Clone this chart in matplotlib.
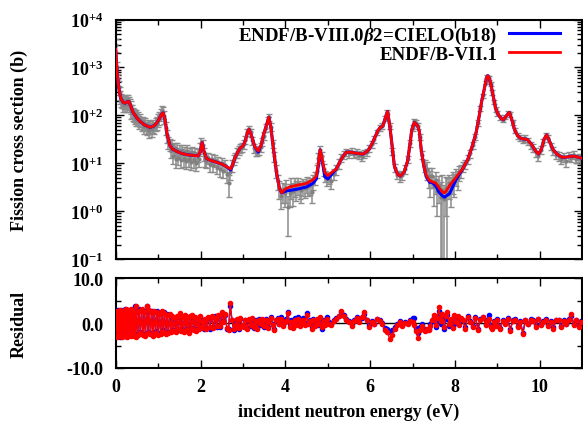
import numpy as np
import matplotlib
matplotlib.use('Agg')
import matplotlib.pyplot as plt
from matplotlib.ticker import FixedLocator, FixedFormatter, LogLocator, NullFormatter, MultipleLocator

plt.rcParams['font.family'] = ['Liberation Serif', 'DejaVu Serif']
plt.rcParams['font.weight'] = 'bold'
plt.rcParams['mathtext.fontset'] = 'custom'
plt.rcParams['mathtext.rm'] = 'Liberation Serif'
plt.rcParams['mathtext.it'] = 'Liberation Serif:italic'
plt.rcParams['mathtext.bf'] = 'Liberation Serif:bold'
plt.rcParams['axes.unicode_minus'] = False

# ---------------- evaluated cross sections ----------------
curve_e = [0.00, 0.02, 0.04, 0.06, 0.09, 0.125, 0.18, 0.22, 0.27, 0.31,
           0.35, 0.41, 0.50, 0.57, 0.68, 0.81, 0.90, 0.96, 1.03, 1.08,
           1.12, 1.16, 1.21, 1.28, 1.35, 1.43, 1.55, 1.67, 1.80, 1.94,
           1.99, 2.04, 2.08, 2.14, 2.25, 2.38, 2.50, 2.61, 2.71, 2.76,
           2.81, 2.87, 2.92, 3.00, 3.06, 3.10, 3.14, 3.20, 3.28, 3.36,
           3.43, 3.48, 3.56, 3.61, 3.66, 3.71, 3.79, 3.86, 3.91, 4.00,
           4.10, 4.30, 4.50, 4.65, 4.73, 4.78, 4.82, 4.87, 4.93, 5.00,
           5.10, 5.20, 5.28, 5.36, 5.44, 5.52, 5.59, 5.70, 5.83, 5.92,
           5.98, 6.08, 6.18, 6.24, 6.30, 6.36, 6.41, 6.45, 6.49, 6.57,
           6.64, 6.71, 6.80, 6.88, 6.93, 6.98, 7.04, 7.12, 7.16, 7.20,
           7.26, 7.32, 7.40, 7.47, 7.55, 7.62, 7.70, 7.75, 7.80, 7.87,
           7.95, 8.02, 8.10, 8.18, 8.30, 8.41, 8.50, 8.57, 8.63, 8.69,
           8.74, 8.77, 8.81, 8.85, 8.90, 8.96, 9.03, 9.10, 9.14, 9.20,
           9.28, 9.34, 9.40, 9.47, 9.55, 9.63, 9.71, 9.80, 9.90, 9.97,
           10.04, 10.10, 10.16, 10.22, 10.30, 10.40, 10.53, 10.65, 10.75, 10.85,
           11.00]
curve_red = [2400, 1200, 700, 450, 300, 220, 185, 180, 190, 195,
             160, 115, 88, 75, 63, 56, 60, 68, 85, 105,
             112, 85, 41, 23, 19.5, 17.8, 16, 15.1, 14.6, 14.2,
             17, 27, 18, 12.5, 11.3, 10.5, 9.6, 8.5, 7.6, 9.5,
             13, 16.5, 20, 23, 30, 42, 51, 38, 22, 18,
             24, 38, 65, 91, 55, 23, 6.5, 3.0, 2.4, 2.9,
             3.2, 3.5, 3.8, 4.5, 5.4, 10, 19, 12, 6.5, 5.5,
             6.5, 7.6, 10.5, 14, 17, 17, 16.6, 16, 15.5, 17.5,
             20, 30, 48, 56, 60, 90, 120, 70, 37, 8.7,
             6, 5.4, 6.5, 11, 22, 50, 71, 60, 45, 20,
             9, 5.5, 4.3, 4.1, 3.8, 3.1, 2.5, 2.4, 2.7, 3.4,
             4.2, 5.0, 6.2, 7.6, 12, 23.5, 45, 98, 200, 355,
             600, 670, 580, 420, 250, 135, 100, 84, 81, 95,
             115, 80, 51, 38, 33, 32, 31, 25, 18, 15.5,
             20, 32, 39, 30, 20, 15.5, 13.2, 13.5, 14, 13.8,
             12.6]
curve_blue = [2400, 1200, 700, 450, 300, 220, 185, 180, 190, 195,
              160, 115, 88, 75, 63, 56, 60, 68, 85, 105,
              112, 85, 41, 23, 19.5, 17.8, 16, 15.1, 14.6, 14.2,
              17, 27, 18, 12.5, 11.3, 10.5, 9.6, 8.5, 7.2, 9.5,
              13, 16.5, 20, 23, 30, 42, 51, 38, 22, 17,
              24, 38, 65, 91, 55, 23, 6.5, 3.0, 2.4, 2.6,
              2.7, 2.9, 3.2, 3.8, 4.7, 9, 19, 11, 5.2, 4.7,
              6.0, 7.6, 10.5, 14, 17, 17, 16.6, 16, 15.5, 17.5,
              20, 30, 48, 56, 60, 90, 120, 70, 37, 8.7,
              6, 5.4, 6.5, 11, 22, 50, 71, 60, 45, 20,
              9, 5.2, 4.0, 3.9, 3.3, 2.5, 2.1, 1.95, 2.1, 2.3,
              3.3, 4.5, 5.8, 7.6, 12, 23.5, 45, 98, 200, 355,
              600, 670, 580, 420, 250, 135, 100, 84, 81, 95,
              115, 80, 51, 38, 33, 32, 31, 25, 18, 15.5,
              20, 32, 39, 30, 20, 15.5, 13.2, 13.5, 14, 13.8,
              12.6]

# ---------------- experimental data ----------------
exp_e = [0.01, 0.03, 0.05, 0.07, 0.09, 0.11, 0.13, 0.15, 0.17, 0.19,
         0.21, 0.23, 0.25, 0.27, 0.29, 0.31, 0.33, 0.35, 0.37, 0.39,
         0.41, 0.43, 0.45, 0.47, 0.49,
         0.52, 0.55, 0.58, 0.61, 0.64, 0.67, 0.70, 0.73, 0.76, 0.79,
         0.82, 0.85, 0.88, 0.91, 0.94, 0.97, 1.00, 1.03, 1.06, 1.09,
         1.12, 1.15, 1.18, 1.21, 1.24, 1.27, 1.30,
         1.33, 1.36, 1.39, 1.42, 1.45, 1.48, 1.51, 1.54, 1.57, 1.60,
         1.63, 1.66, 1.69, 1.72, 1.75, 1.78, 1.81, 1.84, 1.87, 1.90,
         1.93, 1.96, 1.99, 2.02, 2.05, 2.08, 2.11,
         2.14, 2.18, 2.22, 2.26, 2.30, 2.34, 2.38, 2.42, 2.46, 2.50,
         2.54, 2.58, 2.62, 2.66, 2.70, 2.74, 2.78, 2.82, 2.86, 2.90,
         2.94, 2.98,
         3.02, 3.06, 3.10, 3.14, 3.18, 3.22, 3.26, 3.30, 3.34, 3.38,
         3.42, 3.46, 3.50, 3.54, 3.58, 3.62, 3.66, 3.70, 3.74, 3.78,
         3.82, 3.86, 3.90, 3.94, 3.98,
         4.02, 4.06, 4.10, 4.14, 4.18, 4.22, 4.26, 4.30, 4.34, 4.38,
         4.42, 4.46, 4.50, 4.54, 4.58, 4.62, 4.66, 4.70, 4.74, 4.78,
         4.82, 4.86, 4.90, 4.94, 4.98, 5.02,
         5.08, 5.14, 5.20, 5.26, 5.32, 5.38, 5.44, 5.50, 5.56, 5.62,
         5.68, 5.74, 5.80, 5.86, 5.92, 5.98, 6.04, 6.10, 6.16, 6.22,
         6.28, 6.34, 6.40, 6.46, 6.52, 6.58, 6.64, 6.70, 6.76, 6.82,
         6.88, 6.94, 7.00,
         7.04, 7.08, 7.12, 7.18, 7.22, 7.28, 7.34, 7.38, 7.42, 7.46,
         7.50, 7.54, 7.58, 7.62, 7.66, 7.70, 7.74, 7.78, 7.82, 7.86,
         7.90, 7.94, 7.98, 8.02, 8.06, 8.10, 8.14,
         8.18, 8.24, 8.30, 8.36, 8.42, 8.48, 8.54, 8.60, 8.66, 8.72,
         8.76, 8.80, 8.84, 8.88, 8.92, 8.96, 9.00, 9.06, 9.12, 9.18,
         9.24, 9.30, 9.36, 9.42, 9.48, 9.54, 9.60, 9.66, 9.72, 9.78,
         9.84, 9.90, 9.96, 10.02, 10.08, 10.14, 10.20, 10.26, 10.32, 10.38,
         10.44, 10.50, 10.56, 10.62, 10.68, 10.74, 10.80, 10.86, 10.92, 10.98]
exp_sig = [3000, 1000, 560, 390, 300, 250, 215, 200, 175, 195,
           170, 190, 200, 175, 210, 185, 165, 150, 125, 128,
           110, 105, 95, 100, 85,
           88, 76, 80, 68, 72, 60, 66, 55, 62, 50,
           58, 52, 62, 57, 66, 70, 80, 90, 105, 125,
           115, 95, 55, 38, 28, 25, 19,
           24, 14, 21, 12, 20, 13, 18, 11.5, 19, 12.5,
           17, 11, 18, 12, 16, 10.5, 17, 11.5, 16, 10,
           15, 12, 20, 26, 24, 16, 12.5,
           11, 13, 9.5, 12, 9, 11.5, 8.5, 10.5, 7.5, 10,
           7, 9, 6, 3.8, 6.5, 9, 12, 13.5, 17, 19,
           21, 22,
           25, 31, 45, 52, 44, 30, 21, 18, 17.5, 19,
           22, 28, 37, 55, 80, 92, 58, 26, 14, 7,
           4.3, 3, 2.1, 2.7, 2.4,
           3.0, 1.2, 2.4, 3.3, 2.6, 3.5, 2.9, 3.6, 3.0, 2.7,
           3.4, 3.1, 3.8, 3.3, 3.5, 2.5, 4.2, 5.0, 7, 13,
           19, 14, 7.5, 5.5, 4.6, 5.0,
           4.3, 6, 7.5, 10, 13, 15, 17, 16, 17.5, 15.5,
           16.5, 15, 13.5, 16, 17, 21, 25, 32, 44, 55,
           60, 85, 118, 60, 18, 8, 5.8, 5.3, 5.6, 7.5,
           12, 26, 55,
           75, 70, 60, 35, 15, 9, 7.5, 5.5, 4.5, 5.5,
           3.3, 4.5, 2.6, 3.5, 2.0, 2.8, 1.8, 3.0, 2.5, 3.8,
           3.2, 4.5, 4.0, 5.5, 4.8, 6.5, 7,
           8.5, 9.5, 12, 16, 24, 35, 70, 140, 260, 480,
           650, 600, 450, 300, 190, 135, 110, 90, 80, 92,
           112, 105, 72, 48, 37, 34, 31, 33, 29, 24,
           21, 17, 14, 19, 28, 38, 33, 23, 18, 15,
           14, 12, 13.5, 11, 14, 13, 15, 12.5, 13, 12]
exp_err = [900, 300, 170, 120, 90, 75, 65, 60, 55, 60,
           50, 55, 60, 55, 60, 55, 50, 45, 40, 40,
           35, 32, 30, 30, 26,
           27, 23, 24, 21, 22, 19, 20, 17, 19, 16,
           18, 16, 19, 17, 20, 21, 24, 27, 30, 35,
           33, 28, 17, 11, 8, 7, 6,
           7, 4.5, 6, 4, 6, 4, 5.5, 3.5, 5.5, 4,
           5, 3.5, 5.5, 3.5, 5, 3.3, 5, 3.5, 5, 3,
           4.5, 3.5, 6, 7, 7, 5, 4,
           3, 3.5, 2.8, 3.2, 2.6, 3, 2.5, 2.8, 2.3, 2.7,
           2.2, 2.5, 2.2, 1.8, 2, 2.5, 3, 3, 4, 4,
           4.5, 4.5,
           5, 6, 8, 9, 8, 6, 4.5, 4, 3.5, 4,
           4.5, 5.5, 7, 10, 14, 15, 10, 5, 3.5, 2,
           1.5, 1.2, 1.0, 1.2, 1.2,
           1.5, 0.9, 1.2, 1.5, 1.3, 1.5, 1.3, 1.4, 1.2, 1.2,
           1.3, 1.2, 1.4, 1.2, 1.3, 1.0, 1.4, 1.5, 2, 3,
           4, 3, 2, 1.5, 1.3, 1.4,
           1.4, 1.6, 1.8, 2.3, 2.6, 3, 3, 3, 3, 2.8,
           3, 2.8, 2.6, 3, 3, 3.5, 4, 5, 6, 7,
           8, 10, 14, 8, 3, 1.5, 1.2, 1.2, 1.2, 1.5,
           2, 4, 7,
           9, 9, 8, 5, 3, 2.5, 3, 2.5, 2.5, 2.5,
           2.0, 2.2, 1.8, 2.0, 1.99, 2.79, 1.79, 2.2, 2.49, 2.0,
           2.0, 2.2, 2.0, 2.2, 2.0, 2.2, 2,
           2, 2, 2.5, 3, 4, 5, 9, 15, 25, 40,
           50, 50, 40, 30, 20, 15, 12, 10, 9, 10,
           12, 11, 8, 6, 5, 5, 4.5, 5, 4.5, 4,
           4, 3.5, 3, 3.5, 4.5, 5.5, 5, 4, 3.5, 3,
           3, 2.5, 2.8, 2.5, 2.8, 2.6, 3, 2.5, 2.6, 2.5]

# ---------------- residuals ----------------
res_red = [2.8, -3.0, 2.5, -2.7, 3.0, -2.9, 2.6, -3.1, 2.4, -2.8,
           2.9, -2.6, 3.1, -3.0, 2.7, -2.5, 2.3, -2.9, 3.2, -2.4,
           2.6, -2.8, 2.5, -3.0, 3.8,
           -2.6, 2.8, -2.3, 3.1, -2.7, 2.4, -2.9, 3.8, -2.2, 2.9,
           -2.5, 2.3, -2.8, 2.7, -2.1, 2.5, -2.6, 2.0, -2.4, 2.8,
           -1.9, 2.2, -2.5, 1.8, -2.3, 2.1, -2.0,
           1.5, -1.8, 1.2, -2.0, 1.6, -1.4, 2.2, -1.7, 1.3, -1.9,
           1.8, -1.5, 1.1, -2.1, 1.7, -1.2, 1.9, -1.6, 1.4, -1.8,
           1.0, -1.3, 1.6, -0.8, 0.5, -1.1, 0.9,
           -1.2, 1.4, -0.9, 1.7, -1.1, 1.2, -0.7, 1.9, -0.6, 2.4,
           0.3, 2.1, -1.0, -1.5, 4.4, 0.8, -1.3, -0.5, 0.9, -1.0,
           1.1, -0.4,
           -0.8, 0.6, -1.2, 0.9, -0.5, 1.2, -0.9, 0.4, -1.3, 0.7,
           -0.2, 1.0, -0.6, 0.8, -1.1, 0.3, 1.2, -0.4, -1.5, 0.6,
           0.9, -0.3, 1.0, -0.7, 0.2,
           0.5, 2.2, -0.8, 0.3, -1.0, 0.6, -0.4, 0.9, -0.7, 0.2,
           0.8, -0.5, 1.9, -0.3, 0.4, -1.2, 0.7, -0.6, 0.9, -0.2,
           1.3, -0.9, 0.4, -0.5, 1.0, -0.3,
           -0.5, 0.4, 0.9, 1.5, 2.7, 1.6, 0.8, 0.2, -0.6, 0.5,
           1.2, 0.3, 1.4, 2.4, 0.6, -0.8, 0.2, -0.3, 0.9, 0.4,
           -0.2, -1.5, -2.0, -3.5, -2.6, -1.2, -0.4, 0.3, -0.6, 0.1,
           -0.3, 0.5, 0.2,
           -0.4, -1.8, -3.2, -1.5, -0.6, -1.8, -1.2, -1.6, -0.7, 0.8,
           1.9, -0.5, 1.2, 3.5, 0.4, 2.1, -0.8, 1.5, 2.4, -0.3,
           0.9, -1.1, 1.8, 0.3, 1.6, -0.4, 1.1,
           0.6, -1.2, 1.4, 0.2, -0.9, 1.1, -1.6, 0.8, 1.3, -0.5,
           0.4, 0.9, -0.8, -1.4, 0.3, -0.6, 0.7, -1.3, 0.5, -0.2,
           0.9, -1.7, 0.4, 0.8, -0.9, 0.2, -2.4, 0.6, -0.3, 0.7,
           0.5, -0.8, 0.9, -0.4, 0.3, 0.8, -0.6, 0.2, -1.2, 0.7,
           0.6, -0.9, 0.4, -0.3, 0.7, 2.0, -0.4, 0.6, -0.8, 0.3]
res_blue = [2.5, -2.7, 3.0, -2.4, 2.8, -3.0, 2.9, -2.6, 2.7, -2.5,
            3.1, -2.8, 2.8, -2.7, 3.0, -2.3, 2.6, -2.6, 2.9, -2.7,
            2.3, -2.5, 3.8, -2.7, 2.5,
            -2.3, 3.1, -2.0, 2.8, -2.4, 2.7, -2.6, 3.8, -2.0, 2.6,
            -2.2, 2.6, -2.5, 2.4, -1.8, 2.8, -2.3, 2.3, -2.1, 2.5,
            -1.6, 2.5, -2.2, 2.1, -2.0, 1.8, -1.7,
            1.2, -1.5, 1.0, -1.8, 1.3, -1.6, 1.9, -1.4, 1.5, -1.7,
            1.6, -1.3, 1.3, -1.9, 1.4, -1.0, 1.7, -1.4, 1.2, -1.5,
            1.2, -1.1, 1.3, -0.6, 0.7, -1.2, 0.7,
            -1.0, 1.1, -1.2, 1.4, -0.8, 1.5, -0.9, 1.6, -0.8, 2.0,
            0.5, 1.8, -1.2, -1.3, 3.9, 0.6, -1.5, -0.3, 0.7, -1.2,
            0.9, -0.6,
            -0.6, 0.8, -1.0, 0.7, -0.7, 1.0, -1.1, 0.6, -1.0, 0.9,
            -0.4, 0.8, -0.8, 1.0, -0.9, 0.5, 1.4, -0.2, -1.2, 0.8,
            1.1, -0.1, 1.3, -0.4, 0.6,
            0.9, 2.5, -0.3, 0.8, -0.4, 1.1, 0.1, 1.3, -0.2, 0.6,
            1.2, 0.0, 2.3, 0.2, 0.8, -0.8, 1.0, -0.3, 0.6, -0.5,
            0.9, -1.2, 0.7, -0.1, 1.4, 0.2,
            -0.3, 0.6, 1.1, 1.7, 2.5, 1.9, 1.0, 0.4, -0.3, 0.7,
            1.4, 0.6, 1.2, 2.1, 0.8, -0.5, 0.4, -0.1, 1.0, 0.6,
            0.0, -1.0, -1.3, -2.0, -1.6, -0.8, -0.2, 0.5, -0.3, 0.3,
            0.0, 0.8, 1.2,
            1.2, -1.0, -2.2, -0.8, -0.2, -1.2, -1.5, -1.3, -0.3, 0.5,
            1.3, -0.8, 0.6, 2.8, -0.1, 1.5, -1.2, 0.9, 1.8, -0.7,
            0.4, -0.6, 1.3, 0.0, 1.1, -0.2, 0.8,
            0.8, -0.9, 1.6, 0.4, -0.6, 1.3, -1.2, 1.0, 1.4, -0.3,
            0.7, 1.9, -0.5, -1.1, 0.5, -0.3, 0.9, -1.0, 0.7, 0.0,
            1.1, -1.4, 0.6, 1.0, -0.6, 0.4, -2.1, 0.8, -0.1, 0.9,
            0.7, -0.5, 1.0, -0.2, 0.5, 0.9, -0.4, 0.4, -0.9, 0.8,
            0.8, -0.6, 0.6, -0.1, 0.9, 1.6, -0.2, 0.7, -0.6, 0.5]

label_new = r'ENDF/B-VIII.0$\beta2$=CIELO(b18)'
label_old = 'ENDF/B-VII.1'
ytick_vals = [1e-1, 1e0, 1e1, 1e2, 1e3, 1e4]
ytick_labels = [r'$\mathbf{10}^{-1}$', r'$\mathbf{10}^{+0}$', r'$\mathbf{10}^{+1}$',
                r'$\mathbf{10}^{+2}$', r'$\mathbf{10}^{+3}$', r'$\mathbf{10}^{+4}$']
rtick_vals = [-10, 0, 10]
rtick_labels = ['-10.0', '0.0', '10.0']
xtick_vals = [0, 2, 4, 6, 8, 10]

FS = 13
fig = plt.figure(figsize=(5.83, 4.27), dpi=100)
W, H = 583.0, 427.0
ax = fig.add_axes([115.7 / W, 1 - 260 / H, 466.6 / W, 239.5 / H])
axr = fig.add_axes([115.7 / W, 1 - 369 / H, 466.6 / W, 89.7 / H])

e = np.array(exp_e); s = np.array(exp_sig); er = np.array(exp_err)
lower = np.minimum(er, s * 0.995)
ax.errorbar(e, s, yerr=[lower, er], fmt='o', ms=2, color='#808080',
            ecolor='#8c8c8c', elinewidth=1.1, capsize=2.4, capthick=1, zorder=2)
ax.plot(curve_e, curve_blue, color='#0000ff', lw=2.2, label=label_new, zorder=3)
ax.plot(curve_e, curve_red, color='#ff0000', lw=2.0, label=label_old, zorder=4)

ax.set_yscale('log')
ax.set_xlim(0, 11)
ax.set_ylim(1e-1, 1e4)
ax.yaxis.set_major_locator(FixedLocator(ytick_vals))
ax.yaxis.set_major_formatter(FixedFormatter(ytick_labels))
ax.yaxis.set_minor_locator(LogLocator(base=10, subs=np.arange(2, 10), numticks=20))
ax.yaxis.set_minor_formatter(NullFormatter())
ax.xaxis.set_major_locator(FixedLocator(xtick_vals))
ax.xaxis.set_minor_locator(MultipleLocator(1))
ax.set_xticklabels([])

leg = ax.legend(loc='upper right', bbox_to_anchor=(0.968, 1.01), frameon=False,
                markerfirst=False, fontsize=13.6, handlelength=2.7, handletextpad=0.6,
                labelspacing=0.0, borderaxespad=0)
for t in leg.get_texts():
    t.set_fontweight('bold')

axr.axhline(0, color='black', lw=1, zorder=1)
axr.plot(exp_e, res_blue, '-o', color='#0000ff', lw=1, ms=3, zorder=2)
axr.plot(exp_e, res_red, '-o', color='#ff0000', lw=1, ms=3, zorder=3)
axr.set_xlim(0, 11)
axr.set_ylim(-10, 10)
axr.yaxis.set_major_locator(FixedLocator(rtick_vals))
axr.yaxis.set_major_formatter(FixedFormatter(rtick_labels))
axr.yaxis.set_minor_locator(MultipleLocator(5))
axr.xaxis.set_major_locator(FixedLocator(xtick_vals))
axr.xaxis.set_minor_locator(MultipleLocator(1))

for a in (ax, axr):
    a.tick_params(which='both', direction='in', top=True, right=True, labelsize=FS)
    a.tick_params(which='major', length=6, width=1)
    a.tick_params(which='minor', length=3.5, width=1)
    for sp in a.spines.values():
        sp.set_linewidth(1.5)
    for lbl in a.get_xticklabels() + a.get_yticklabels():
        lbl.set_fontweight('bold')
ax.tick_params(axis='y', pad=9)
axr.tick_params(axis='y', pad=9)
axr.tick_params(axis='x', pad=7)

fig.text(19 / W, 1 - 140 / H, 'Fission cross section (b)', rotation=90,
         ha='center', va='center', fontsize=FS, fontweight='bold')
fig.text(19 / W, 1 - 324 / H, 'Residual', rotation=90,
         ha='center', va='center', fontsize=FS, fontweight='bold')
fig.text(349 / W, 1 - 412 / H, 'incident neutron energy (eV)',
         ha='center', va='center', fontsize=FS, fontweight='bold')

fig.savefig('out.png', dpi=100)
